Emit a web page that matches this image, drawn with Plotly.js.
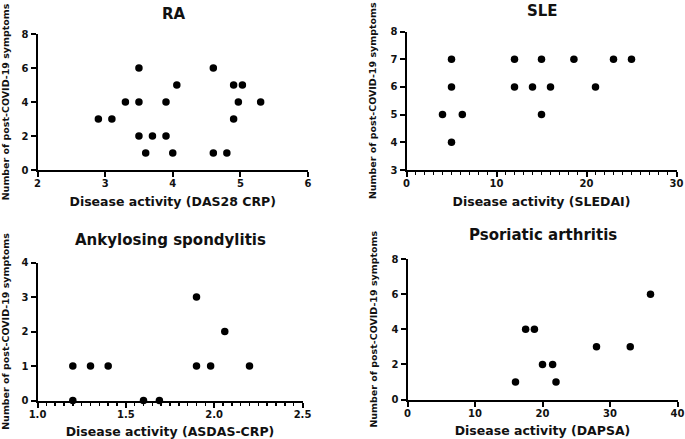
<!DOCTYPE html>
<html>
<head>
<meta charset="utf-8">
<script src="https://cdn.plot.ly/plotly-3.0.1.min.js"></script>
<style>
  html, body { margin: 0; padding: 0; background: #fff; }
  #chart { width: 685px; height: 439px; }
</style>
</head>
<body>
<div id="chart"></div>
<script>
// values
const raX = [2.9, 3.1, 3.3, 3.5, 3.5, 3.5, 3.6, 3.7, 3.9, 3.9, 4.0, 4.06, 4.6, 4.6, 4.8, 4.9, 4.9, 4.97, 5.03, 5.3];
const raY = [3, 3, 4, 6, 4, 2, 1, 2, 2, 4, 1, 5, 6, 1, 1, 3, 5, 4, 5, 4];

const sleX = [4, 5, 5, 5, 6.2, 12, 12, 14, 15, 15, 16, 18.6, 21, 23, 25];
const sleY = [5, 7, 6, 4, 5, 7, 6, 6, 7, 5, 6, 7, 6, 7, 7];

const asX = [1.2, 1.3, 1.4, 1.9, 1.98, 2.2, 1.2, 1.6, 1.69, 1.9, 2.06];
const asY = [1, 1, 1, 1, 1, 1, 0, 0, 0, 3, 2];

const psaX = [16, 17.5, 18.8, 20, 21.5, 22, 28, 33, 36];
const psaY = [1, 4, 4, 2, 2, 1, 3, 3, 6];

const panelTitles = ["RA", "SLE", "Ankylosing spondylitis", "Psoriatic arthritis"];
const xTitles = ["Disease activity (DAS28 CRP)", "Disease activity (SLEDAI)",
                 "Disease activity (ASDAS-CRP)", "Disease activity (DAPSA)"];
const yTitle = "Number of post-COVID-19 symptoms";

const W = 685, H = 439;
const font = "DejaVu Sans, Arial, sans-serif";

// pixel boxes of each plot area: [left, right, top, bottom]
const boxes = [
    [37.5, 308, 34, 170],
    [406.5, 676.5, 31.5, 170],
    [37.5, 302.5, 262.5, 400.5],
    [407.5, 677.5, 259, 399.5]
];

function xd(b) { return [b[0] / W, b[1] / W]; }
function yd(b) { return [1 - b[3] / H, 1 - b[2] / H]; }

function trace(x, y, n) {
    return {
        x: x, y: y, type: "scatter", mode: "markers",
        xaxis: n == 1 ? "x" : "x" + n,
        yaxis: n == 1 ? "y" : "y" + n,
        marker: { color: "#000", size: 7.5 },
        cliponaxis: false,
        hoverinfo: "x+y"
    };
}

function axis(b, isX, range, dtick, title, extra) {
    const a = {
        domain: isX ? xd(b) : yd(b),
        range: range,
        dtick: dtick,
        tick0: range[0],
        showgrid: false,
        zeroline: false,
        showline: true,
        linecolor: "#000",
        linewidth: 2,
        ticks: "outside",
        ticklen: 5,
        tickwidth: 2,
        tickcolor: "#000",
        tickfont: { family: font, size: 10, color: "#111", weight: "bold" },
        title: {
            text: title,
            font: { family: font, size: isX ? 12.5 : 9.5, color: "#111", weight: "bold" },
            standoff: isX ? 9 : 12
        },
        fixedrange: true
    };
    if (isX) a.ticklabelstandoff = -2;
    return Object.assign(a, extra || {});
}

const data = [
    trace(raX, raY, 1),
    trace(sleX, sleY, 2),
    trace(asX, asY, 3),
    trace(psaX, psaY, 4)
];

const minorTicks = (d) => ({ minor: { dtick: d, ticks: "outside", ticklen: 3, tickwidth: 1.5, tickcolor: "#000" } });

const layout = {
    width: W, height: H,
    margin: { l: 0, r: 0, t: 0, b: 0 },
    paper_bgcolor: "#fff",
    plot_bgcolor: "#fff",
    showlegend: false,
    xaxis:  axis(boxes[0], true, [2, 6], 1, xTitles[0], { anchor: "y" }),
    yaxis:  axis(boxes[0], false, [0, 8], 2, yTitle, { anchor: "x" }),
    xaxis2: axis(boxes[1], true, [0, 30], 10, xTitles[1], Object.assign({ anchor: "y2" }, minorTicks(1))),
    yaxis2: axis(boxes[1], false, [3, 8], 1, yTitle, { anchor: "x2" }),
    xaxis3: axis(boxes[2], true, [1, 2.5], 0.5, xTitles[2], Object.assign({ anchor: "y3", tickformat: ".1f" }, minorTicks(0.05))),
    yaxis3: axis(boxes[2], false, [0, 4], 1, yTitle, { anchor: "x3" }),
    xaxis4: axis(boxes[3], true, [0, 40], 10, xTitles[3], { anchor: "y4" }),
    yaxis4: axis(boxes[3], false, [0, 8], 2, yTitle, { anchor: "x4" }),
    annotations: [
        [174, 14], [542, 11], [170, 240], [543, 235]
    ].map((p, i) => ({
        text: panelTitles[i],
        xref: "paper", yref: "paper",
        x: p[0] / W, y: 1 - p[1] / H,
        xanchor: "center", yanchor: "middle",
        showarrow: false,
        font: { family: font, size: 15, color: "#111", weight: "bold" }
    }))
};

Plotly.newPlot("chart", data, layout, { displayModeBar: false, staticPlot: true });
</script>
</body>
</html>
